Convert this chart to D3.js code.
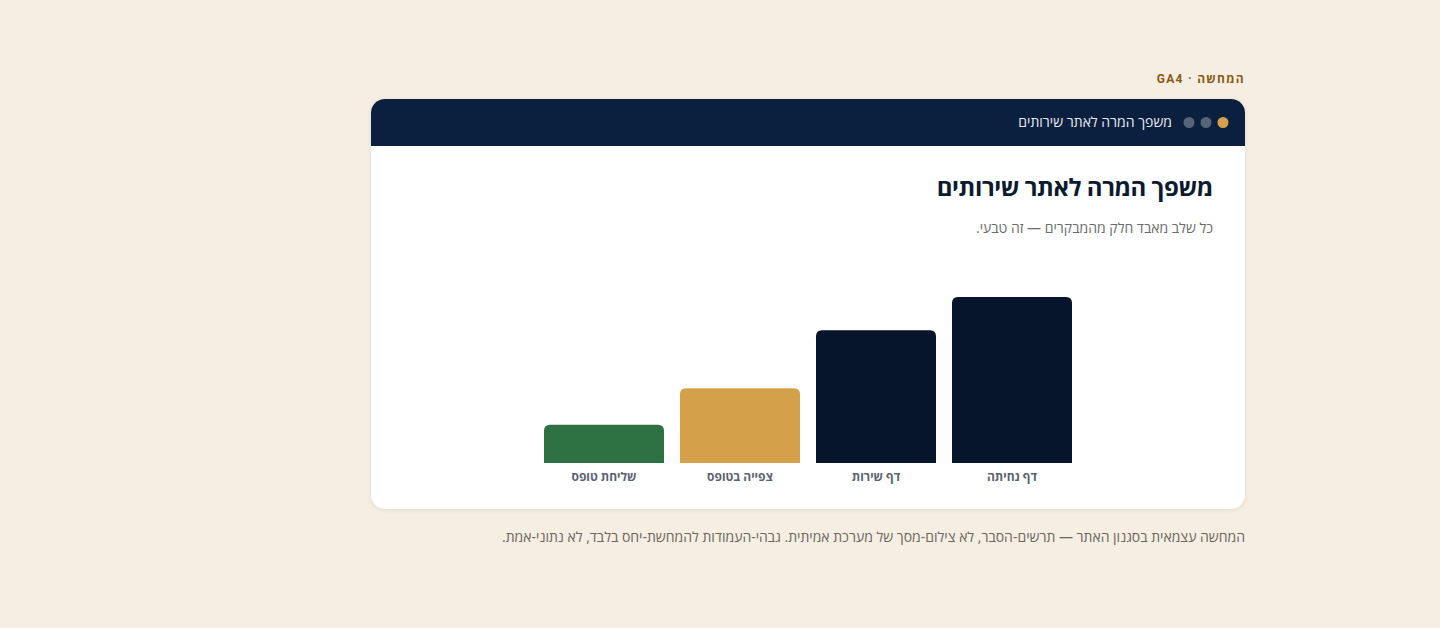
<!DOCTYPE html>
<html lang="he">
<head>
<meta charset="utf-8">
<script src="https://cdn.jsdelivr.net/npm/d3@7"></script>
<style>
  html, body { margin: 0; padding: 0; }
  body {
    width: 1440px; height: 628px; background: #f6eee2;
    font-family: Roboto, "Open Sans", sans-serif; position: relative; overflow: hidden;
  }
  .tag {
    position: absolute; right: 195px; top: 70px; direction: rtl;
    font-size: 12px; font-weight: 700; letter-spacing: 1.3px; color: #8a5a14;
  }
  .card {
    position: absolute; left: 371px; top: 99px; width: 874px; height: 410px;
    background: #fff; border-radius: 14px; overflow: hidden;
    box-shadow: 0 1px 4px rgba(60,40,10,0.10);
  }
  .bar-head {
    position: absolute; left: 0; top: 0; width: 100%; height: 47px; background: #0b1f3f;
  }
  .head-title {
    position: absolute; right: 73px; direction: rtl;
    font-family: "Open Sans", sans-serif; font-size: 14px; color: #e8ecf2;
  }
  .title {
    position: absolute; right: 32px; direction: rtl;
    font-size: 24px; font-weight: 700; letter-spacing: -0.4px; color: #0b1a2e;
  }
  .sub {
    position: absolute; right: 32px; direction: rtl;
    font-family: "Open Sans", sans-serif; font-size: 14px; color: #6b6b6b;
  }
  .caption {
    position: absolute; right: 195px; top: 527px; direction: rtl;
    font-family: "Open Sans", sans-serif; font-size: 14px; color: #6b6660;
  }
  svg { position: absolute; left: 0; top: 0; }
</style>
</head>
<body>
<script>
// funnel steps, right to left
var categories = ["דף נחיתה", "דף שירות", "צפייה בטופס", "שליחת טופס"];
var values = [100, 80, 45, 23];
var barColors = ["#06152b", "#06152b", "#d4a04a", "#2e7142"];

var body = d3.select("body");

body.append("div").attr("class", "tag").text("המחשה · GA4");

var card = body.append("div").attr("class", "card");
card.append("div").attr("class", "bar-head");
card.append("div").attr("class", "head-title").style("top", "13px").text("משפך המרה לאתר שירותים");
card.append("div").attr("class", "title").style("top", "71px").text("משפך המרה לאתר שירותים");
card.append("div").attr("class", "sub").style("top", "119px").text("כל שלב מאבד חלק מהמבקרים — זה טבעי.");

var svg = card.append("svg").attr("width", 874).attr("height", 410);

// window dots in the header
var dots = ["#d4a04a", "#5a6478", "#5a6478"];
svg.selectAll("circle.dot")
  .data(dots)
  .enter()
  .append("circle")
  .attr("class", "dot")
  .attr("cx", (d, i) => 852 - i * 17)
  .attr("cy", 23.5)
  .attr("r", 5.5)
  .attr("fill", d => d);

var baseY = 364;
var cx = 437;
var x = d3.scaleBand()
  .domain(categories)
  .range([cx + 264, cx - 264])
  .paddingInner(16 / 136)
  .paddingOuter(0);

var y = d3.scaleLinear().domain([0, 100]).range([0, 166]);

function topRounded(x0, w, h, r) {
  var y0 = baseY - h;
  return `M${x0},${baseY} V${y0 + r} Q${x0},${y0} ${x0 + r},${y0} H${x0 + w - r} Q${x0 + w},${y0} ${x0 + w},${y0 + r} V${baseY} Z`;
}

var chartGroup = svg.append("g");

chartGroup.selectAll("path.bar")
  .data(categories)
  .enter()
  .append("path")
  .attr("class", "bar")
  .attr("d", (d, i) => topRounded(x(d), x.bandwidth(), y(values[i]), 6))
  .attr("fill", (d, i) => barColors[i]);

chartGroup.selectAll("text.lbl")
  .data(categories)
  .enter()
  .append("text")
  .attr("class", "lbl")
  .attr("x", d => x(d) + x.bandwidth() / 2)
  .attr("y", baseY + 18)
  .attr("text-anchor", "middle")
  .attr("font-size", "12px")
  .attr("font-weight", 700)
  .attr("fill", "#5b6270")
  .text(d => d);

body.append("div").attr("class", "caption")
  .text("המחשה עצמאית בסגנון האתר — תרשים-הסבר, לא צילום-מסך של מערכת אמיתית. גבהי-העמודות להמחשת-יחס בלבד, לא נתוני-אמת.");
</script>
</body>
</html>
